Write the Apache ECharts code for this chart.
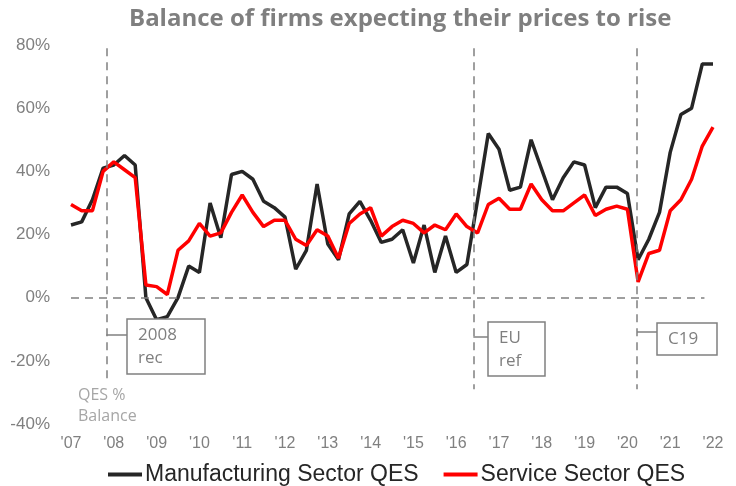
<!DOCTYPE html>
<html lang="en">
<head>
  <meta charset="UTF-8">
  <title>Balance of firms expecting their prices to rise</title>
  <style>
      html, body { margin: 0; padding: 0; background: #fff; }
      #chart { width: 736px; height: 486px; }
  </style>
</head>
<body>
<div id="chart"></div>

<script src="https://cdn.jsdelivr.net/npm/echarts@6/dist/echarts.min.js"></script>
<script>

  // quarterly, 2007 Q1 .. 2022 Q1
  const yearLabels = ["'07", "'08", "'09", "'10", "'11", "'12", "'13", "'14", "'15", "'16", "'17", "'18", "'19", "'20", "'21", "'22"];

  const manufacturing = [
    23, 24, 31, 41, 42, 45, 42, 0, -7, -6, 0, 10,
    8, 30, 19, 39, 40, 37.5, 30.5, 28.5, 25.5, 9, 15, 36,
    17, 12, 26.5, 30.5, 24.5, 17.5, 18.5, 21.5, 11, 23, 8, 19.5,
    8, 10.5, 31, 52, 47, 34, 35, 50, 40.5, 31, 38, 43,
    42, 28.5, 35, 35, 33, 12, 18.5, 27, 46, 58, 60, 74,
    74
  ];

  const services = [
    29.5, 27.5, 27.5, 40, 43, 40.5, 38, 4, 3.5, 1, 15, 18,
    23.5, 19.5, 20.5, 27, 32.5, 27, 22.5, 24.5, 24.5, 18.5, 16.5, 21.5,
    19.5, 12.5, 23.5, 26.5, 28.5, 19.5, 22.5, 24.5, 23.5, 20.5, 23, 21.5,
    26.5, 22.5, 20.5, 29.5, 31.5, 28, 28, 36, 31, 27.5, 27.5, 30,
    32.5, 26, 28, 29, 28, 5, 14, 15, 27.5, 31, 37.5, 48,
    54
  ];

  // event markers (quarter index) and where their dashed lines stop
  const events = [
    { name: '2008 rec', at: 3.3, bottom: -27 },
    { name: 'EU ref', at: 37.6, bottom: -29 },
    { name: 'C19', at: 52.9, bottom: -29 }
  ];

  const grey = '#808080';

  const toPairs = arr => arr.map((v, i) => [i, v]);

  const chart = echarts.init(document.getElementById('chart'));

  const eventLines = events.map(e => [
    { coord: [e.at, 79] },
    { coord: [e.at, e.bottom] }
  ]);

  const option = {
    animation: false,
    title: {
      text: 'Balance of firms expecting their prices to rise',
      left: 124,
      top: 2,
      textStyle: {
        fontFamily: 'Open Sans',
        fontWeight: 'bold',
        fontSize: 24,
        color: '#7f7f7f'
      }
    },
    grid: {
      left: 71,
      right: 23,
      top: 45,
      bottom: 62
    },
    legend: {
      top: 458,
      left: 103,
      icon: 'rect',
      itemWidth: 34,
      itemHeight: 4,
      itemGap: 25,
      textStyle: {
        fontFamily: 'Liberation Sans',
        fontSize: 23,
        color: '#262626',
        padding: [0, 0, 0, -2]
      },
      data: ['Manufacturing Sector QES', 'Service Sector QES']
    },
    xAxis: {
      type: 'value',
      min: 0,
      max: 60,
      interval: 4,
      axisLine: { show: false },
      axisTick: { show: false },
      splitLine: { show: false },
      axisLabel: {
        margin: 12,
        fontFamily: 'Liberation Sans',
        fontSize: 16,
        color: grey,
        formatter: v => yearLabels[v / 4]
      }
    },
    yAxis: {
      type: 'value',
      min: -40,
      max: 80,
      interval: 20,
      axisLine: { show: false },
      axisTick: { show: false },
      splitLine: { show: false },
      axisLabel: {
        margin: 21,
        fontFamily: 'Liberation Sans',
        fontSize: 17,
        color: grey,
        formatter: '{value}%'
      }
    },
    series: [
      {
        name: 'Manufacturing Sector QES',
        type: 'line',
        data: toPairs(manufacturing),
        showSymbol: false,
        lineStyle: { color: '#262626', width: 3.5 },
        itemStyle: { color: '#262626' },
        z: 3,
        markLine: {
          silent: true,
          symbol: 'none',
          label: { show: false },
          lineStyle: { color: grey, type: [8, 6], width: 1.5 },
          data: [
            [{ coord: [0, 0] }, { coord: [59.2, 0] }]
          ].concat(eventLines)
        }
      },
      {
        name: 'Service Sector QES',
        type: 'line',
        data: toPairs(services),
        showSymbol: false,
        lineStyle: { color: '#ff0000', width: 3.5 },
        itemStyle: { color: '#ff0000' },
        z: 4
      }
    ],
    graphic: []
  };

  chart.setOption(option);

  // annotation boxes, hung off the event lines
  const boxes = [
    { ev: 0, x: 127, y: 319, w: 78, h: 55, link: 335, lines: ['2008', 'rec'] },
    { ev: 1, x: 488, y: 322, w: 57, h: 54, link: 337, lines: ['EU', 'ref'] },
    { ev: 2, x: 657, y: 323, w: 60, h: 32, link: 332, lines: ['C19'] }
  ];

  const g = [];
  boxes.forEach(b => {
    const lx = chart.convertToPixel({ gridIndex: 0 }, [events[b.ev].at, 0])[0];
    g.push({
      type: 'line', z: 10,
      shape: { x1: lx, y1: b.link, x2: b.x, y2: b.link },
      style: { stroke: grey, lineWidth: 1.5 }
    });
    g.push({
      type: 'rect', z: 10,
      shape: { x: b.x, y: b.y, width: b.w, height: b.h },
      style: { fill: '#fff', stroke: grey, lineWidth: 1.5 }
    });
    g.push({
      type: 'text', z: 11,
      x: b.x + 11, y: b.y + 5,
      style: {
        text: b.lines.join('\n'),
        fontFamily: 'Open Sans',
        fontSize: 17,
        lineHeight: 23,
        fill: '#7f7f7f'
      }
    });
  });
  g.push({
    type: 'text', z: 11,
    x: 78, y: 385,
    style: {
      text: 'QES %\nBalance',
      fontFamily: 'Open Sans',
      fontSize: 16,
      lineHeight: 21,
      fill: '#a6a6a6'
    }
  });

  chart.setOption({ graphic: g });

</script>
</body>
</html>
